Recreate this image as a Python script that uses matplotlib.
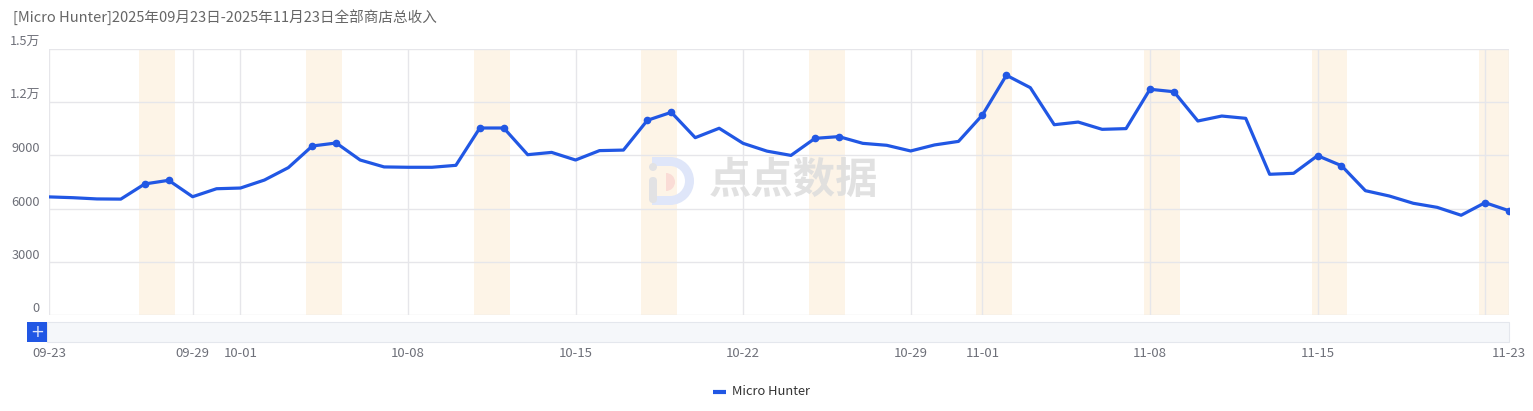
import matplotlib
matplotlib.use("Agg")
import matplotlib.pyplot as plt
import matplotlib.patches as mpatches
import pandas as pd
import numpy as np

plt.rcParams['font.family'] = ['Noto Sans CJK SC', 'DejaVu Sans']

# ---------------- data ----------------
dates = pd.date_range("2025-09-23", "2025-11-23", freq="D")
revenue = [6660, 6615, 6545, 6535, 7390, 7595, 6670, 7120, 7160, 7610,
           8310, 9530, 9700, 8740, 8350, 8330, 8330, 8440, 10545, 10545,
           9040, 9170, 8740, 9270, 9300, 10980, 11430, 10000, 10530, 9680,
           9240, 9000, 9960, 10060, 9680, 9570, 9250, 9590, 9790, 11280,
           13520, 12820, 10730, 10880, 10470, 10510, 12730, 12590, 10940, 11220,
           11090, 7935, 7990, 8985, 8420, 7010, 6710, 6300, 6070, 5625,
           6335, 5880]
series_name = "Micro Hunter"
title = "[Micro Hunter]2025年09月23日-2025年11月23日全部商店总收入"
xtick_labels = ["09-23", "09-29", "10-01", "10-08", "10-15", "10-22",
                "10-29", "11-01", "11-08", "11-15", "11-23"]
xgrid_labels = ["09-29", "10-01", "10-08", "10-15", "10-22",
                "10-29", "11-01", "11-08", "11-15", "11-22"]
yticks = [0, 3000, 6000, 9000, 12000, 15000]
ytick_labels = ["0", "3000", "6000", "9000", "1.2万", "1.5万"]

# ---------------- style ----------------
W, H = 1533, 411
LINE_C = "#2157e4"
BAND_C = "#fdf4e7"
GRID_C = "#e6e6ea"
TICK_C = "#6e7079"

fig = plt.figure(figsize=(W / 100, H / 100), dpi=100)
L, R, T, B = 49, 1509, 49, 315
ax = fig.add_axes([L / W, 1 - B / H, (R - L) / W, (B - T) / H])

labels_md = [d.strftime("%m-%d") for d in dates]
x = np.arange(len(dates))
pos = {lab: i for i, lab in enumerate(labels_md)}

# weekend bands
weekend = [i for i, d in enumerate(dates) if d.weekday() >= 5]
for i, d in enumerate(dates):
    if d.weekday() == 5:
        ax.axvspan(i - 0.25, i + 1.25, color=BAND_C, zorder=0.5, lw=0)

# grid
for lab in xgrid_labels:
    ax.axvline(pos[lab], color=GRID_C, lw=1, zorder=1)
for v in yticks:
    ax.axhline(v, color=GRID_C, lw=1, zorder=1)
ax.axvline(0, color=GRID_C, lw=1, zorder=1)
ax.axvline(len(dates) - 1, color=GRID_C, lw=1, zorder=1)

ax.plot(x, revenue, color=LINE_C, lw=2.3, zorder=3, solid_joinstyle='round')
ax.plot(x[weekend], np.array(revenue)[weekend], 'o', color=LINE_C, ms=4.5, zorder=4)

ax.set_xlim(0, len(dates) - 1)
ax.set_ylim(0, 15000)
for s in ax.spines.values():
    s.set_visible(False)

ax.set_yticks(yticks)
ax.set_yticklabels(ytick_labels)
ax.tick_params(axis='y', length=0, pad=6.5, labelsize=9.2, labelcolor=TICK_C)
for t in ax.get_yticklabels():
    t.set_verticalalignment('bottom')

ax.set_xticks([pos[l] for l in xtick_labels])
ax.set_xticklabels(xtick_labels)
ax.tick_params(axis='x', length=0, pad=23, labelsize=9.5, labelcolor=TICK_C)

# title
fig.text(13 / W, 1 - 17 / H, title, fontsize=10.5, color="#666666",
         ha='left', va='center')

# slider (data zoom)
def fig_rect(x0, y0, x1, y1, **kw):
    r = mpatches.Rectangle((x0 / W, 1 - y1 / H), (x1 - x0) / W, (y1 - y0) / H,
                           transform=fig.transFigure, **kw)
    fig.add_artist(r)

fig_rect(47, 322, 1509, 342, facecolor="#f5f7fa", edgecolor="#e4e7ed", lw=0.8)
fig_rect(27, 322, 47, 342, facecolor="#2157e4", edgecolor="none")
fig.text(37 / W, 1 - 332 / H, "+", color="#dfe6fb", fontsize=12,
         ha='center', va='center', family='DejaVu Sans')

# legend
fig.add_artist(plt.Line2D([713 / W, 726 / W], [1 - 392 / H, 1 - 392 / H],
                          transform=fig.transFigure, color=LINE_C, lw=3,
                          solid_capstyle='butt'))
fig.text(732 / W, 1 - 391.5 / H, series_name, fontsize=9.3, color="#333333",
         ha='left', va='center')

# watermark
fig.text(793 / W, 1 - 181 / H, "点点数据", fontsize=30.5, color="#dedede",
         ha='center', va='center', fontweight='bold', alpha=0.9, zorder=2)
lax = fig.add_axes([646 / W, 1 - 206 / H, 50 / W, 50 / H])
lax.set_xlim(0, 50)
lax.set_ylim(0, 50)
lax.axis('off')
lax.add_patch(mpatches.Wedge((24, 25), 24, -90, 90, width=9,
                             facecolor="#dfe6f9", edgecolor='none'))
lax.add_patch(mpatches.Rectangle((6, 1), 18, 9, facecolor="#dfe6f9", edgecolor='none'))
lax.add_patch(mpatches.Rectangle((6, 40), 18, 9, facecolor="#dfe6f9", edgecolor='none'))
lax.add_patch(mpatches.FancyBboxPatch((3, 3), 8, 26, boxstyle="round,pad=0,rounding_size=4",
                                      facecolor="#e2e2e4", edgecolor='none'))
lax.add_patch(mpatches.Circle((7, 39), 4, facecolor="#e2e2e4", edgecolor='none'))
lax.add_patch(mpatches.Wedge((20, 24), 9, -90, 90, facecolor="#fadcd6", edgecolor='none'))

fig.savefig("out.png", dpi=100)
